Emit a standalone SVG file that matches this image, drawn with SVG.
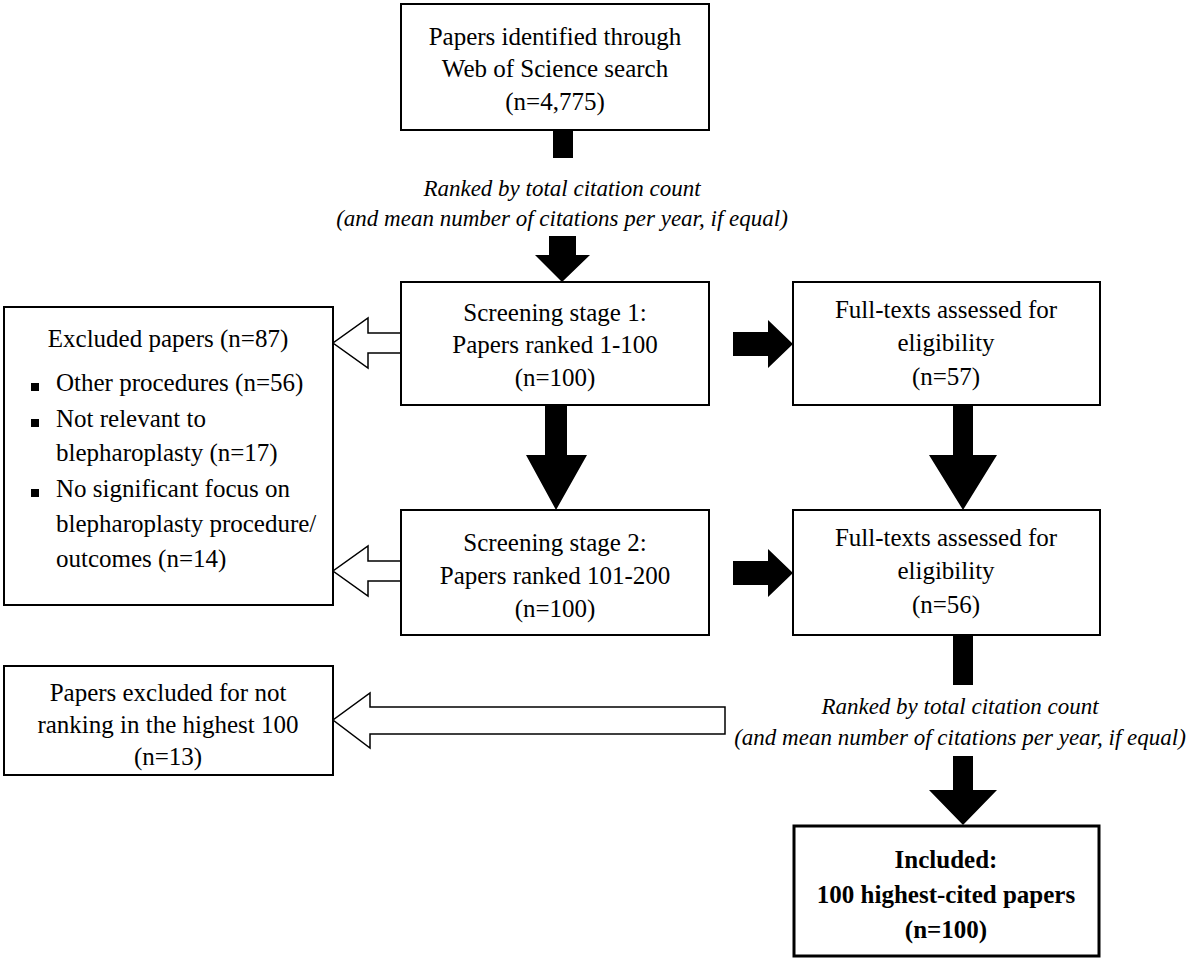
<svg xmlns="http://www.w3.org/2000/svg" width="1200" height="961" viewBox="0 0 1200 961">
<style>
.b{fill:#fff;stroke:#000;stroke-width:2}
text{font-family:"Liberation Serif","Times New Roman",serif;font-size:25px;fill:#000}
.c{text-anchor:middle}
.i{font-style:italic;font-size:23px}
.bo{font-weight:bold}
.k{fill:#000}
.h{fill:#fff;stroke:#000;stroke-width:1.5}
</style>
<rect width="1200" height="961" fill="#fff"/>
<g id="connectors">
<rect class="k" x="553" y="130" width="20" height="28"/>
<text class="c i" x="562" y="196">Ranked by total citation count</text>
<text class="c i" x="562" y="226">(and mean number of citations per year, if equal)</text>
<polygon class="k" points="549,236 576,236 576,255 590,255 562,282 535,255 549,255"/>
<polygon class="k" points="733,332 768,332 768,320 793,344 768,368 768,356 733,356"/>
<polygon class="h" points="401,333 368,333 368,318 333,343 368,368 368,353 401,353"/>
<polygon class="k" points="545,405 567,405 567,455 587,455 556,510 526,455 545,455"/>
<polygon class="k" points="953,405 973,405 973,455 997,455 963,510 929,455 953,455"/>
<polygon class="k" points="733,561 768,561 768,549 793,573 768,597 768,585 733,585"/>
<polygon class="h" points="401,561 368,561 368,546 333,571 368,596 368,581 401,581"/>
<rect class="k" x="953" y="635" width="20" height="50"/>
<text class="c i" x="960" y="714">Ranked by total citation count</text>
<text class="c i" x="960" y="745">(and mean number of citations per year, if equal)</text>
<polygon class="h" points="725,707 370,707 370,693 333,720 370,748 370,734 725,734"/>
<polygon class="k" points="953,756 973,756 973,790 997,790 963,825 929,790 953,790"/>
</g>
<g id="n1"><rect class="b" x="401" y="4" width="308" height="126"/>
<text class="c" x="555" y="45">Papers identified through</text>
<text class="c" x="555" y="77">Web of Science search</text>
<text class="c" x="555" y="110">(n=4,775)</text></g>
<g id="n2"><rect class="b" x="401" y="282" width="308" height="123"/>
<text class="c" x="555" y="321">Screening stage 1:</text>
<text class="c" x="555" y="353">Papers ranked 1-100</text>
<text class="c" x="555" y="386">(n=100)</text></g>
<g id="n3"><rect class="b" x="793" y="282" width="307" height="123"/>
<text class="c" x="946" y="318">Full-texts assessed for</text>
<text class="c" x="946" y="351">eligibility</text>
<text class="c" x="946" y="385">(n=57)</text></g>
<g id="n4"><rect class="b" x="4" y="307" width="329" height="298"/>
<text class="c" x="168" y="347">Excluded papers (n=87)</text>
<rect class="k" x="31" y="383" width="8" height="8"/>
<text x="56" y="391">Other procedures (n=56)</text>
<rect class="k" x="31" y="419" width="8" height="8"/>
<text x="56" y="427">Not relevant to</text>
<text x="56" y="461">blepharoplasty (n=17)</text>
<rect class="k" x="31" y="489" width="8" height="8"/>
<text x="56" y="497">No significant focus on</text>
<text x="56" y="532">blepharoplasty procedure/</text>
<text x="56" y="567">outcomes (n=14)</text></g>
<g id="n5"><rect class="b" x="401" y="510" width="308" height="125"/>
<text class="c" x="555" y="551">Screening stage 2:</text>
<text class="c" x="555" y="584">Papers ranked 101-200</text>
<text class="c" x="555" y="617">(n=100)</text></g>
<g id="n6"><rect class="b" x="793" y="510" width="307" height="125"/>
<text class="c" x="946" y="546">Full-texts assessed for</text>
<text class="c" x="946" y="579">eligibility</text>
<text class="c" x="946" y="613">(n=56)</text></g>
<g id="n7"><rect class="b" x="4" y="666" width="329" height="109"/>
<text class="c" x="168" y="701">Papers excluded for not</text>
<text class="c" x="168" y="733">ranking in the highest 100</text>
<text class="c" x="168" y="765">(n=13)</text></g>
<g id="n8"><rect x="794" y="826" width="305" height="130" fill="#fff" stroke="#000" stroke-width="3"/>
<text class="c bo" x="946" y="868">Included:</text>
<text class="c bo" x="946" y="903">100 highest-cited papers</text>
<text class="c bo" x="946" y="938">(n=100)</text></g>
</svg>
